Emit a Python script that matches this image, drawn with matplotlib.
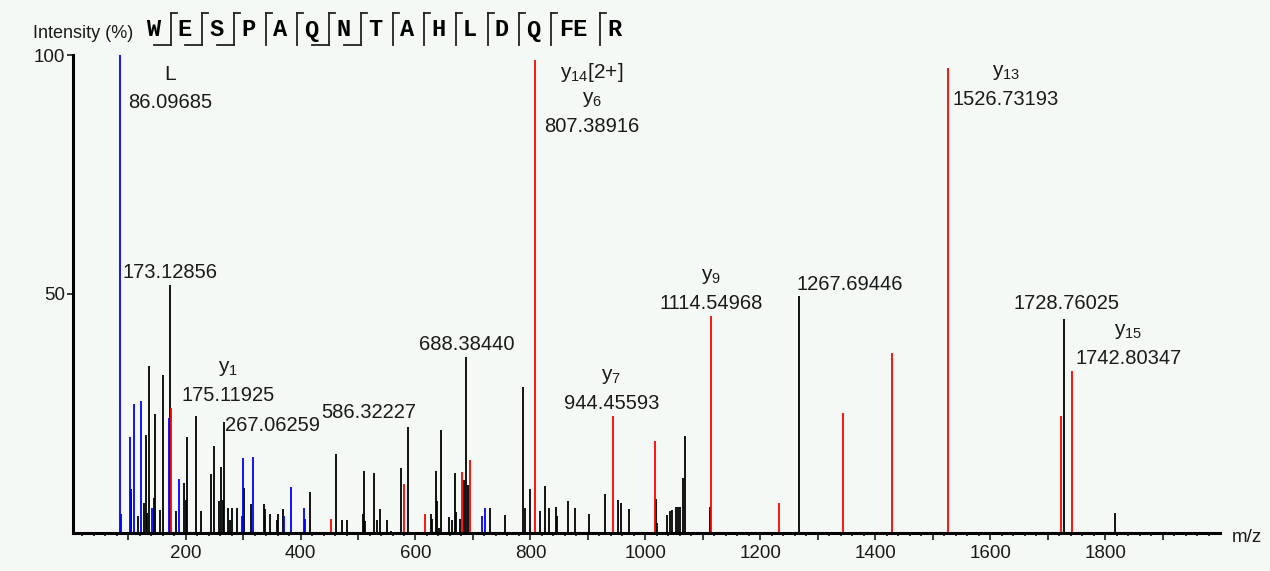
import matplotlib
matplotlib.use('Agg')
import matplotlib.pyplot as plt
from matplotlib.ticker import FixedLocator, FuncFormatter
from matplotlib.lines import Line2D

plt.rcParams['font.family'] = ['Liberation Sans', 'DejaVu Sans']
plt.rcParams['mathtext.fontset'] = 'custom'
plt.rcParams['mathtext.rm'] = 'Liberation Sans'
plt.rcParams['mathtext.it'] = 'Liberation Sans'

# peptide sequence shown above the spectrum
residues = ['W', 'E', 'S', 'P', 'A', 'Q', 'N', 'T', 'A', 'H', 'L', 'D', 'Q', 'FE', 'R']
b_breaks = [True, True, True, False, False, True, True, False, False, False, False, False, False, False]
y_breaks = [True] * 14

# unassigned peaks (black)
black_mz = [104.7, 116.9, 127.9, 130.8, 133.6, 136.0, 144.8, 147.5, 155.2, 160.9, 173.12856, 183.6,
            197.5, 199.8, 202.7, 217.2, 227.6, 244.0, 249.7, 257.9, 261.4, 264.9, 267.06259, 272.9,
            278.0, 281.0, 289.2, 301.9, 314.1, 336.2, 338.5, 346.7, 359.4, 361.6, 369.3, 416.8,
            461.5, 472.0, 480.0, 507.8, 510.3, 512.5, 527.0, 532.9, 538.1, 549.6, 557.8, 574.0,
            586.32227, 626.9, 629.2, 634.9, 637.4, 640.1, 643.6, 658.2, 663.5, 668.0, 671.0, 677.4,
            684.9, 688.38440, 691.3, 729.6, 755.0, 787.6, 790.5, 799.2, 815.9, 824.6, 832.8, 843.8,
            846.2, 865.4, 876.9, 901.9, 929.8, 951.7, 956.9, 970.9, 1017.9, 1020.8, 1037.7, 1042.9,
            1045.7, 1053.9, 1056.8, 1060.3, 1065.5, 1068.3, 1113.1, 1267.69446, 1728.76025, 1818.0]
black_int = [9.2, 3.5, 6.2, 20.5, 4.2, 35.0, 7.3, 25.0, 4.8, 33.0, 51.9, 4.5,
             10.5, 7.0, 20.0, 24.5, 4.5, 12.3, 18.2, 6.7, 13.9, 7.0, 23.3, 5.2,
             2.7, 5.2, 5.2, 9.5, 6.0, 6.0, 5.0, 4.0, 2.8, 4.0, 5.0, 8.5,
             16.5, 2.8, 2.8, 4.0, 12.9, 2.5, 12.5, 2.8, 5.0, 2.8, 0.5, 13.6,
             22.2, 4.0, 3.0, 12.9, 6.6, 1.0, 21.5, 3.3, 2.8, 12.5, 4.3, 3.0,
             11.0, 36.9, 10.0, 5.2, 3.8, 30.6, 5.2, 9.2, 4.5, 9.9, 5.2, 5.5,
             3.5, 6.6, 5.2, 4.0, 8.2, 6.9, 6.2, 5.0, 7.2, 2.0, 3.8, 4.5,
             4.8, 5.5, 5.5, 5.5, 11.6, 20.2, 5.5, 49.6, 44.8, 4.2]

# y ions (red)
red_mz = [175.11925, 452.2, 580.4, 615.8, 680.2, 694.1, 807.38916, 944.45593, 1016.1, 1114.54968,
          1232.0, 1343.4, 1428.6, 1526.73193, 1722.8, 1742.80347]
red_int = [26.2, 2.9, 10.2, 4.0, 12.8, 15.3, 99.0, 24.5, 19.2, 45.4,
           6.2, 25.2, 37.6, 97.3, 24.5, 33.9]

# immonium / internal ions (blue)
blue_mz = [86.09685, 87.8, 103.0, 111.0, 122.0, 141.8, 171.9, 188.8, 298.0, 299.7, 316.4,
           371.0, 382.5, 405.2, 407.6, 715.7, 721.4]
blue_int = [100.0, 4.0, 20.0, 27.0, 27.6, 5.2, 24.0, 11.3, 3.5, 15.6, 15.8,
            3.5, 9.6, 5.2, 3.0, 3.5, 5.2]

# annotated peaks
label_mz = [86.09685, 173.12856, 175.11925, 267.06259, 586.32227, 688.38440, 807.38916,
            944.45593, 1114.54968, 1267.69446, 1526.73193, 1728.76025, 1742.80347]
label_int = [100.0, 51.9, 26.2, 23.3, 22.2, 36.9, 99.0, 24.5, 45.4, 49.6, 97.3, 44.8, 33.9]
label_text = ['86.09685', '173.12856', '175.11925', '267.06259', '586.32227', '688.38440',
              '807.38916', '944.45593', '1114.54968', '1267.69446', '1526.73193', '1728.76025',
              '1742.80347']
label_ions = [['L'], [], [r'y$_{\mathregular{1}}$'], [], [], [],
              [r'y$_{\mathregular{6}}$', r'y$_{\mathregular{14}}$[2+]'],
              [r'y$_{\mathregular{7}}$'], [r'y$_{\mathregular{9}}$'], [],
              [r'y$_{\mathregular{13}}$'], [], [r'y$_{\mathregular{15}}$']]
# text offsets from the peak top, in pixels
label_dx = [50, 0, 57, 48, -39, 0, 57, -2, 0, 51, 58, 2, 56]
label_dy = [-47, 12, 12, -4, 14, 12, -67, 12, 12, 11, -32, 15, 12]

bg = '#f5f9f5'
W, H = 1270, 571
fig = plt.figure(figsize=(12.7, 5.71), dpi=100, facecolor=bg)
ax = fig.add_axes([73 / W, 1 - 533 / H, (1220 - 73) / W, (533 - 55) / H], facecolor=bg)

ax.vlines(black_mz, 0, black_int, colors='black', linewidth=1.3)
ax.vlines(blue_mz, 0, blue_int, colors='#0000ff', linewidth=1.3)
ax.vlines(red_mz, 0, red_int, colors='#ff0000', linewidth=1.3)

txt_color = '#1a1a1a'
for i in range(len(label_mz)):
    ax.annotate(label_text[i], xy=(label_mz[i], label_int[i]), xytext=(label_dx[i], label_dy[i]),
                textcoords='offset pixels', ha='center', va='center', fontsize=14.5,
                color=txt_color, annotation_clip=False)
    for k, ion in enumerate(label_ions[i]):
        ax.annotate(ion, xy=(label_mz[i], label_int[i]),
                    xytext=(label_dx[i], label_dy[i] + 27 * (k + 1)),
                    textcoords='offset pixels', ha='center', va='center', fontsize=15,
                    color=txt_color, annotation_clip=False)

ax.set_xlim(4, 2000)
ax.set_ylim(0, 100)
for s in ['top', 'right']:
    ax.spines[s].set_visible(False)
for s in ['left', 'bottom']:
    ax.spines[s].set_linewidth(2.2)
ax.xaxis.set_major_locator(FixedLocator(list(range(100, 2000, 100))))
ax.xaxis.set_major_formatter(FuncFormatter(lambda v, p: '%d' % v if int(v) % 200 == 0 else ''))
ax.xaxis.set_minor_locator(FixedLocator(list(range(20, 2000, 20))))
ax.yaxis.set_major_locator(FixedLocator([50, 100]))
ax.tick_params(axis='x', which='major', length=5, width=1.2, labelsize=13.5, pad=4, colors=txt_color)
ax.tick_params(axis='x', which='minor', length=2.5, width=1.1)
ax.tick_params(axis='y', which='major', length=4.5, width=1.2, labelsize=13.5, pad=1, colors=txt_color)

fig.text(1232 / W, 1 - 538 / H, 'm/z', fontsize=13.5, color=txt_color, ha='left', va='center')
fig.text(33 / W, 1 - 34 / H, 'Intensity (%)', fontsize=13, color=txt_color, ha='left', va='center')

# sequence with fragment brackets
x_prev = 139.0
y_top, y_bot, y_mid = 13.0, 45.0, 30.0
for i, res in enumerate(residues):
    n = len(res)
    cx = x_prev + 14.0 + 8.5 * (n - 1)
    fig.text(cx / W, 1 - y_mid / H, res, fontsize=17, fontweight='bold', family='Liberation Mono',
             color='black', ha='center', va='center')
    if i < len(b_breaks):
        xv = x_prev + 31.7 + 17.3 * (n - 1)
        fig.add_artist(Line2D([xv / W, xv / W], [1 - y_top / H, 1 - y_bot / H], color='#222222', lw=1.3))
        if b_breaks[i]:
            fig.add_artist(Line2D([(xv - 17) / W, xv / W], [1 - y_bot / H, 1 - y_bot / H], color='#222222', lw=1.3))
        if y_breaks[i]:
            fig.add_artist(Line2D([xv / W, (xv + 6) / W], [1 - y_top / H, 1 - y_top / H], color='#222222', lw=1.3))
        x_prev = xv

fig.savefig('out.png', dpi=100, facecolor=bg)
